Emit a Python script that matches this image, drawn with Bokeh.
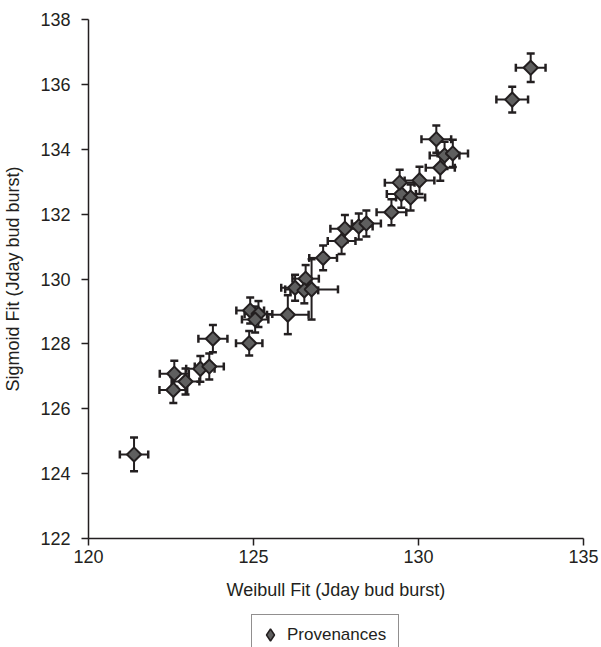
from bokeh.plotting import figure
from bokeh.models import (ColumnDataSource, Whisker, TeeHead, Range1d, FixedTicker,
                          Legend, LegendItem)
from bokeh.layouts import column
from bokeh.embed import file_html
from bokeh.resources import INLINE
import math

# Weibull fit (x) and Sigmoid fit (y) of Julian day of bud burst, per provenance
weibull = [121.38, 122.57, 122.60, 122.94, 123.39, 123.66, 123.77, 124.87, 124.90,
           125.15, 125.05, 126.04, 126.26, 126.58, 126.54, 126.76, 127.11, 127.67,
           127.77, 128.19, 128.42, 129.18, 129.48, 129.43, 129.76, 130.03, 130.66,
           130.79, 131.04, 130.54, 132.84, 133.40]
sigmoid = [124.59, 126.58, 127.08, 126.84, 127.23, 127.30, 128.16, 128.02, 129.03,
           128.92, 128.75, 128.90, 129.73, 130.01, 129.65, 129.68, 130.65, 131.17,
           131.55, 131.62, 131.71, 132.06, 132.62, 132.97, 132.51, 133.04, 133.43,
           133.81, 133.87, 134.31, 135.53, 136.51]
weibull_err = [0.43, 0.42, 0.44, 0.42, 0.43, 0.44, 0.44, 0.40, 0.42,
               0.42, 0.40, 0.63, 0.42, 0.40, 0.42, 0.80, 0.42, 0.42,
               0.44, 0.42, 0.44, 0.45, 0.44, 0.45, 0.44, 0.45, 0.44,
               0.45, 0.46, 0.45, 0.48, 0.45]
sigmoid_err = [0.52, 0.40, 0.40, 0.40, 0.40, 0.40, 0.42, 0.38, 0.40,
               0.40, 0.40, 0.60, 0.40, 0.42, 0.40, 0.93, 0.38, 0.40,
               0.42, 0.40, 0.40, 0.40, 0.42, 0.40, 0.40, 0.42, 0.40,
               0.42, 0.42, 0.42, 0.40, 0.44]

x_ticks = [120, 125, 130, 135]
y_ticks = [122, 124, 126, 128, 130, 132, 134, 136, 138]
series_name = "Provenances"
x_title = "Weibull Fit (Jday bud burst)"
y_title = "Sigmoid Fit (Jday bud burst)"

FONT = "Liberation Sans"
INK = "#231f20"
FILL = "#5f5f5f"
FS = "18px"

src = ColumnDataSource(dict(
    x=weibull, y=sigmoid,
    xl=[a - e for a, e in zip(weibull, weibull_err)],
    xu=[a + e for a, e in zip(weibull, weibull_err)],
    yl=[a - e for a, e in zip(sigmoid, sigmoid_err)],
    yu=[a + e for a, e in zip(sigmoid, sigmoid_err)],
))

p = figure(width=601, height=605, output_backend="svg", toolbar_location=None,
           x_range=Range1d(120, 135), y_range=Range1d(122, 138),
           min_border_left=86, min_border_right=18, min_border_top=19,
           min_border_bottom=67)
p.outline_line_color = None
p.grid.visible = False
p.background_fill_color = "white"
p.border_fill_color = "white"

for ax in (p.xaxis[0], p.yaxis[0]):
    ax.axis_line_color = INK
    ax.axis_line_width = 1.5
    ax.major_tick_line_color = INK
    ax.major_tick_line_width = 1.5
    ax.major_tick_in = 0
    ax.major_tick_out = 7
    ax.minor_tick_line_color = None
    ax.major_label_text_font = FONT
    ax.major_label_text_font_size = FS
    ax.major_label_text_color = INK
    ax.axis_label_text_font = FONT
    ax.axis_label_text_font_size = FS
    ax.axis_label_text_font_style = "normal"
    ax.axis_label_text_color = INK

p.xaxis[0].ticker = FixedTicker(ticks=x_ticks)
p.yaxis[0].ticker = FixedTicker(ticks=y_ticks)
p.xaxis[0].axis_label = x_title
p.yaxis[0].axis_label = y_title
p.xaxis[0].major_label_standoff = 4
p.xaxis[0].axis_label_standoff = 14
p.yaxis[0].major_label_standoff = 11
p.yaxis[0].axis_label_standoff = 14

wy = Whisker(source=src, base="x", upper="yu", lower="yl", dimension="height",
             line_color=INK, line_width=2, level="underlay",
             upper_head=TeeHead(size=8, line_color=INK, line_width=2.5),
             lower_head=TeeHead(size=8, line_color=INK, line_width=2.5))
wx = Whisker(source=src, base="y", upper="xu", lower="xl", dimension="width",
             line_color=INK, line_width=2, level="underlay",
             upper_head=TeeHead(size=8, line_color=INK, line_width=2.5),
             lower_head=TeeHead(size=8, line_color=INK, line_width=2.5))
p.add_layout(wy)
p.add_layout(wx)

r = p.scatter("x", "y", source=src, marker="square", angle=math.pi / 4, size=10,
              fill_color=FILL, line_color=INK, line_width=2)

# legend strip below the chart (same marker style, off-range point only for the key)
lg = figure(width=601, height=42, output_backend="svg", toolbar_location=None,
            x_range=Range1d(0, 1), y_range=Range1d(0, 1),
            x_axis_type=None, y_axis_type=None,
            min_border_left=0, min_border_right=0, min_border_top=0,
            min_border_bottom=0)
lg.outline_line_color = None
lg.grid.visible = False
lg_r = lg.scatter(x=[-10], y=[-10], marker="diamond", fill_color=FILL,
                  line_color=INK, line_width=1.5)
legend = Legend(items=[LegendItem(label=series_name, renderers=[lg_r])],
                location=(163, -8), orientation="horizontal",
                border_line_color=INK, border_line_width=1,
                background_fill_color="white", background_fill_alpha=1,
                label_text_font=FONT, label_text_font_size="17px",
                label_text_color=INK, padding=3, margin=0, spacing=0,
                glyph_width=30, glyph_height=33, label_height=20,
                label_width=108, label_standoff=2)
lg.add_layout(legend, "center")

layout = column(p, lg, spacing=0)
open("out.html", "w").write(file_html(layout, INLINE))
